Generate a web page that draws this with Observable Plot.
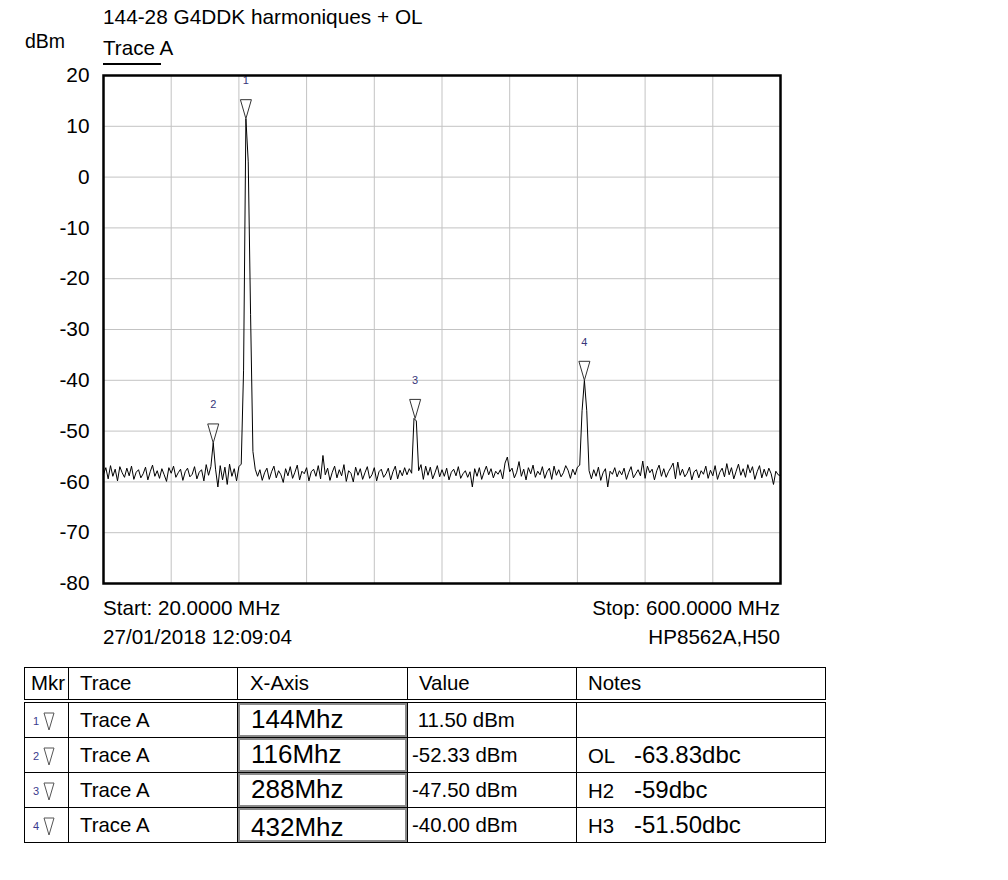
<!DOCTYPE html>
<html>
<head>
<meta charset="utf-8">
<script src="https://cdn.jsdelivr.net/npm/d3@7"></script>
<script src="https://cdn.jsdelivr.net/npm/@observablehq/plot@0.6"></script>
<style>
  html, body { margin: 0; padding: 0; background: white; }
  #page { position: relative; width: 1008px; height: 880px; overflow: hidden; background: white;
          font-family: "Liberation Sans", Arial, sans-serif; color: black; }
  #chart { position: absolute; left: 0; top: 0; }
  .lbl { position: absolute; white-space: pre; }
  #mk { position: absolute; left: 24px; top: 667px; width: 801px; border-collapse: collapse;
        table-layout: fixed; font-size: 20.4px; }
  #mk th, #mk td { border: 1px solid black; padding: 0; text-align: left; font-weight: normal;
        white-space: pre; overflow: visible; vertical-align: middle; }
  #mk th { height: 31px; border-bottom: 4px double black; }
  #mk td { height: 34px; }
  #mk .box { box-sizing: border-box; border: 2px solid #8a8a8a; height: 34px; font-size: 26px;
        line-height: 28px; padding-left: 11px; overflow: visible; }
  #mk .box.low { line-height: 30px; padding-top: 2px; }
  #mk .num { font-size: 11px; color: #3a3a8c; display: inline-block; width: 14px; text-align: right; vertical-align: middle; }
  #mk svg.tri { vertical-align: middle; margin-left: 4px; }
  #mk .code { display: inline-block; width: 46px; }
  #mk .nv { font-size: 24px; }
</style>
</head>
<body>
<div id="page"></div>
<script>
// ---- data ----
const titleText = "144-28 G4DDK harmoniques + OL";
const yUnit = "dBm";
const traceName = "Trace A";
const startText = "Start: 20.0000 MHz";
const stopText = "Stop: 600.0000 MHz";
const dateText = "27/01/2018 12:09:04";
const instrText = "HP8562A,H50";

const freqStart = 20, freqStop = 600, freqStep = 2;  // sweep in MHz
const yTicks = [20, 10, 0, -10, -20, -30, -40, -50, -60, -70, -80];
const xGrid = [78, 136, 194, 252, 310, 368, 426, 484, 542];

// trace level (dBm) for each sweep point, 20 MHz .. 600 MHz every 2 MHz
const traceLevels = [
  -58.5,-57.2,-59.4,-56.8,-58.9,-57.5,-59.8,-57.0,-58.2,-59.1,
  -57.3,-58.8,-56.9,-59.5,-58.1,-57.6,-59.2,-58.4,-57.1,-59.6,
  -58.0,-56.7,-58.9,-57.8,-59.3,-57.4,-58.6,-59.9,-57.2,-58.3,
  -56.9,-59.1,-58.2,-57.5,-59.7,-58.0,-57.3,-59.0,-58.5,-57.0,
  -59.4,-58.1,-57.6,-59.8,-56.6,-58.7,-57.0,-52.3,-57.5,-61.0,
  -56.8,-59.6,-57.1,-60.5,-56.5,-58.9,-57.4,-59.8,-57.0,-56.5,
  -38.0, 11.5,  3.0,-27.0,-54.0,-57.5,-58.9,-57.6,-59.7,-58.2,
  -57.3,-59.5,-58.0,-56.9,-59.2,-57.8,-58.6,-60.1,-57.4,-58.8,
  -57.0,-59.3,-58.1,-56.7,-59.6,-57.9,-58.4,-57.2,-59.8,-58.0,
  -57.5,-58.9,-56.8,-59.4,-54.8,-58.6,-57.3,-59.7,-58.1,-56.9,
  -59.2,-57.6,-58.8,-56.6,-59.9,-57.8,-58.3,-60.0,-57.1,-58.7,
  -57.4,-59.5,-58.2,-57.0,-59.3,-58.6,-57.2,-59.8,-58.0,-57.5,
  -59.1,-58.4,-57.3,-59.6,-58.0,-56.9,-59.4,-57.7,-58.8,-57.2,
  -58.6,-57.4,-58.3,-47.5,-48.0,-57.8,-56.6,-59.5,-56.9,-58.7,
  -57.1,-59.4,-58.2,-56.8,-59.0,-57.6,-58.9,-57.3,-59.6,-58.1,
  -57.5,-58.8,-57.0,-59.3,-58.4,-57.8,-59.1,-58.0,-61.0,-57.4,
  -58.9,-57.2,-59.5,-58.1,-56.9,-58.6,-57.4,-59.2,-57.9,-58.5,
  -57.6,-59.4,-56.3,-55.1,-58.0,-57.3,-59.2,-58.1,-56.0,-58.9,
  -57.5,-59.6,-57.2,-58.4,-56.7,-59.1,-57.9,-58.6,-57.0,-59.3,
  -58.0,-57.3,-59.5,-56.9,-58.7,-57.6,-59.0,-58.2,-56.8,-57.7,
  -59.3,-57.5,-58.6,-57.1,-56.7,-46.0,-40.0,-46.0,-57.8,-59.4,
  -57.6,-58.9,-57.1,-59.7,-58.2,-57.4,-61.0,-57.9,-58.5,-57.2,
  -59.0,-57.8,-58.6,-57.3,-59.5,-58.1,-57.0,-59.2,-58.4,-57.6,
  -58.8,-55.9,-59.3,-56.9,-58.2,-57.5,-59.6,-57.8,-56.7,-58.9,
  -57.4,-59.1,-58.0,-57.2,-56.3,-59.4,-56.1,-58.7,-57.5,-59.0,
  -58.3,-57.1,-59.6,-58.0,-57.6,-59.2,-57.8,-58.5,-56.9,-59.3,
  -57.7,-58.8,-56.8,-59.5,-58.1,-57.3,-59.0,-56.4,-58.6,-57.2,
  -59.4,-57.9,-56.5,-58.7,-57.4,-59.1,-56.6,-58.2,-57.0,-59.5,
  -58.0,-56.8,-59.2,-57.5,-58.9,-57.3,-58.4,-60.5,-57.9,-58.6,
  -58.8
];

// markers: position on the trace as drawn, and table contents
const markerIds = ["1", "2", "3", "4"];
const markerFreqs = [142, 114, 287, 432];
const markerLevels = [11.5, -52.33, -47.5, -40.0];
const tableHeaders = ["Mkr", "Trace", "X-Axis", "Value", "Notes"];
const xAxisLabels = ["144Mhz", "116Mhz", "288Mhz", "432Mhz"];
const valueLabels = [" 11.50 dBm", "-52.33 dBm", "-47.50 dBm", "-40.00 dBm"];
const noteCodes = ["", "OL", "H2", "H3"];
const noteValues = ["", "-63.83dbc", "-59dbc", "-51.50dbc"];

// ---- build ----
const trace = traceLevels.map((v, i) => ({f: freqStart + i * freqStep, dBm: v}));
const markers = markerIds.map((id, i) => ({id, f: markerFreqs[i], dBm: markerLevels[i]}));

const triangleDown = {
  draw(context) {
    context.moveTo(0, 0);
    context.lineTo(-5.5, -19);
    context.lineTo(5.5, -19);
    context.closePath();
  }
};

const chart = Plot.plot({
  width: 1008,
  height: 600,
  marginLeft: 103,
  marginRight: 228,
  marginTop: 75,
  marginBottom: 17,
  style: {fontFamily: "'Liberation Sans', Arial, sans-serif", fontSize: "20.8px", color: "black",
          background: "transparent", overflow: "visible"},
  x: {domain: [freqStart, freqStop], axis: null},
  y: {domain: [-80, 20], ticks: yTicks, tickSize: 0, tickPadding: 14, label: null,
      tickFormat: d => String(d)},
  marks: [
    Plot.ruleX(xGrid, {stroke: "#c3c3c3", strokeWidth: 1}),
    Plot.ruleY(yTicks, {stroke: "#c3c3c3", strokeWidth: 1}),
    Plot.line(trace, {x: "f", y: "dBm", stroke: "black", strokeWidth: 1}),
    Plot.dot(markers, {x: "f", y: "dBm", symbol: triangleDown, stroke: "#333333", fill: "none", strokeWidth: 1}),
    Plot.text(markers, {x: "f", y: "dBm", text: "id", dy: -38, fill: "#36367a", fontSize: 11}),
    Plot.frame({stroke: "black", strokeWidth: 2.5})
  ]
});
chart.id = "chart";
const page = document.getElementById("page");
page.appendChild(chart);

function label(text, x, baseline, size, anchor) {
  const d = document.createElement("div");
  d.className = "lbl";
  d.textContent = text;
  d.style.fontSize = size + "px";
  d.style.lineHeight = size + "px";
  d.style.top = (baseline - 0.8465 * size) + "px";
  if (anchor === "end") d.style.right = (1008 - x) + "px";
  else d.style.left = x + "px";
  page.appendChild(d);
  return d;
}
label(titleText, 103, 25, 20.8);
label(yUnit, 25, 49, 19.5);
label(traceName, 103, 55, 20.6);
const ul = document.createElement("div");
ul.style.cssText = "position:absolute;left:103px;top:63px;width:58px;height:1.5px;background:black;";
page.appendChild(ul);
label(startText, 103, 615, 20.6);
label(dateText, 103, 644, 20.6);
label(stopText, 780, 615, 20.6, "end");
label(instrText, 780, 644, 20.6, "end");

// marker table
const tbl = document.createElement("table");
tbl.id = "mk";
const colWidths = [44, 169, 170, 169, 249];
const cg = document.createElement("colgroup");
colWidths.forEach(w => { const c = document.createElement("col"); c.style.width = w + "px"; cg.appendChild(c); });
tbl.appendChild(cg);
const hr = document.createElement("tr");
const hpad = [6, 11, 12, 11, 11];
tableHeaders.forEach((h, i) => {
  const th = document.createElement("th");
  th.textContent = h;
  th.style.paddingLeft = hpad[i] + "px";
  hr.appendChild(th);
});
tbl.appendChild(hr);
markerIds.forEach((id, i) => {
  const tr = document.createElement("tr");
  const c0 = document.createElement("td");
  c0.innerHTML = `<span class="num">${id}</span><svg class="tri" width="12" height="19"><polygon points="1,1 11,1 6,18" fill="none" stroke="#555" stroke-width="1"/></svg>`;
  const c1 = document.createElement("td");
  c1.textContent = traceName; c1.style.paddingLeft = "11px";
  const c2 = document.createElement("td");
  const box = document.createElement("div");
  box.className = i === 3 ? "box low" : "box";
  box.textContent = xAxisLabels[i];
  c2.appendChild(box);
  const c3 = document.createElement("td");
  c3.textContent = valueLabels[i]; c3.style.paddingLeft = "4px";
  const c4 = document.createElement("td");
  c4.style.paddingLeft = "11px";
  if (noteCodes[i]) c4.innerHTML = `<span class="code">${noteCodes[i]}</span><span class="nv">${noteValues[i]}</span>`;
  [c0, c1, c2, c3, c4].forEach(c => tr.appendChild(c));
  tbl.appendChild(tr);
});
page.appendChild(tbl);
</script>
</body>
</html>
